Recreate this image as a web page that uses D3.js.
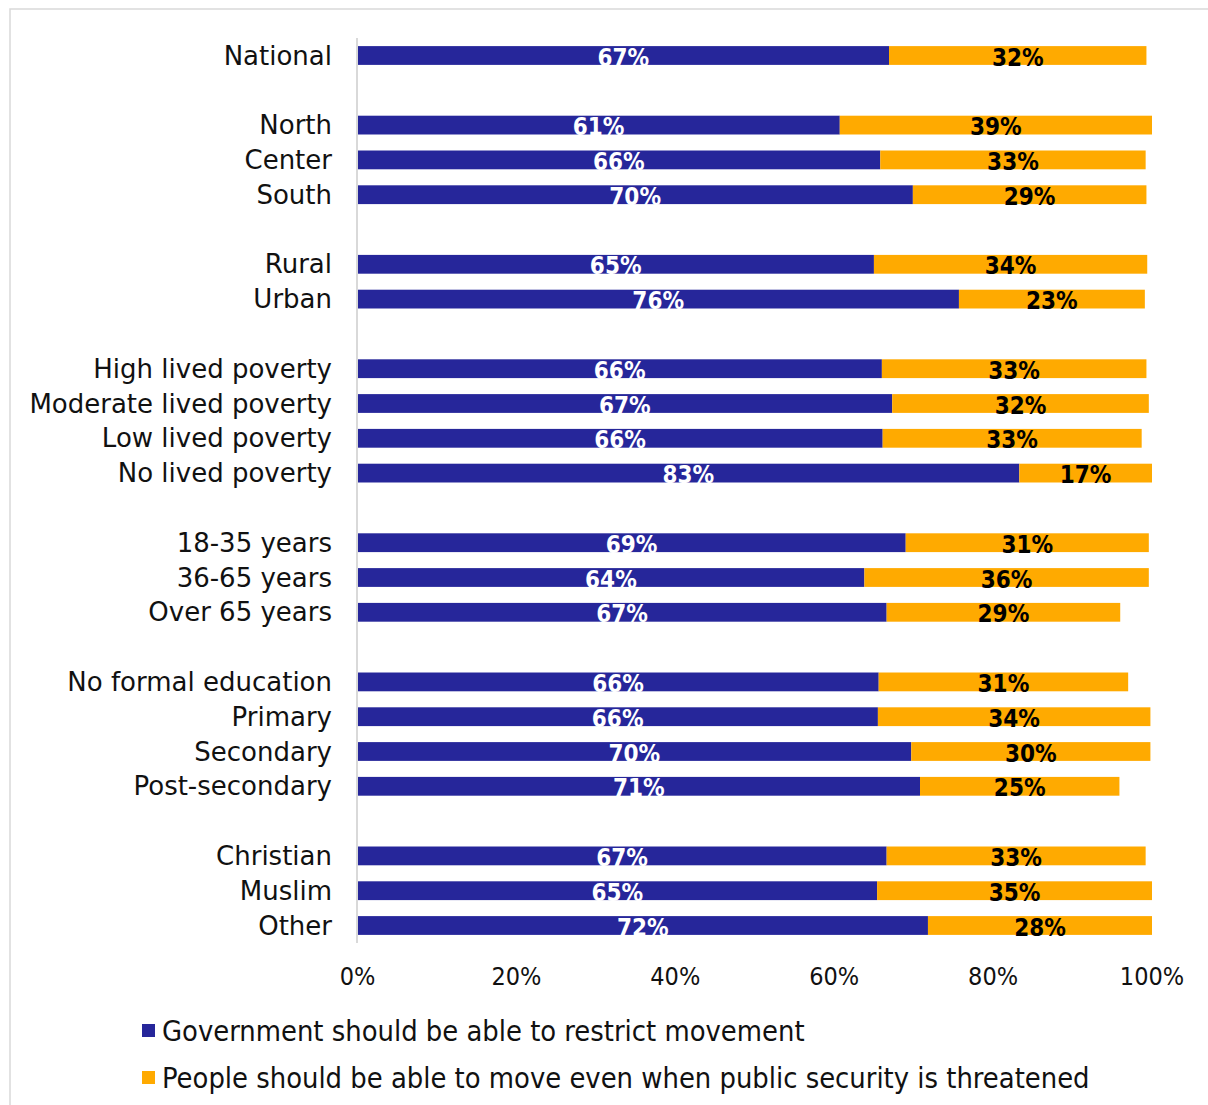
<!DOCTYPE html>
<html>
<head>
<meta charset="utf-8">
<script src="https://cdn.jsdelivr.net/npm/d3@7"></script>
<style>
  html, body { margin: 0; padding: 0; background: #fff; }
  svg { display: block; }
</style>
</head>
<body>
<div class="chart"></div>
<script>
// categories in drawing order, split into groups (a blank row sits between groups)
const categories = ["National",
  "North", "Center", "South",
  "Rural", "Urban",
  "High lived poverty", "Moderate lived poverty", "Low lived poverty", "No lived poverty",
  "18-35 years", "36-65 years", "Over 65 years",
  "No formal education", "Primary", "Secondary", "Post-secondary",
  "Christian", "Muslim", "Other"]
const groupSizes = [1, 3, 2, 4, 3, 4, 3]

// Government should be able to restrict movement (%)
const govValues = [66.9,
  60.7, 65.8, 69.9,
  65.0, 75.7,
  66.0, 67.3, 66.1, 83.3,
  69.0, 63.8, 66.6,
  65.6, 65.5, 69.7, 70.8,
  66.6, 65.4, 71.8]
// People should be able to move even when public security is threatened (%)
const peopleValues = [32.4,
  39.3, 33.4, 29.4,
  34.4, 23.4,
  33.3, 32.3, 32.6, 16.7,
  30.6, 35.8, 29.4,
  31.4, 34.3, 30.1, 25.1,
  32.6, 34.6, 28.2]

const seriesNames = ["Government should be able to restrict movement",
  "People should be able to move even when public security is threatened"]
const seriesColors = ["#26269a", "#ffaa00"]
const tickValues = [0, 20, 40, 60, 80, 100]

const W = 1208, H = 1105

// build the row slots, with a spacer between groups
let slots = []
let idx = 0
groupSizes.forEach((n, g) => {
  if (g > 0) slots.push({key: "gap" + g, gap: true})
  for (let i = 0; i < n; i++) {
    slots.push({key: "row" + idx, name: categories[idx], gov: govValues[idx], people: peopleValues[idx]})
    idx++
  }
})
const rows = slots.filter(d => !d.gap)

const svg = d3.select(".chart").append("svg")
  .attr("width", W)
  .attr("height", H)

// light frame round the chart
svg.append("rect")
  .attr("x", 10).attr("y", 9)
  .attr("width", 1400).attr("height", 1400)
  .attr("fill", "none")
  .attr("stroke", "#d9d9d9")
  .attr("stroke-width", 1.5)

const x = d3.scaleLinear().domain([0, 100]).range([357.5, 1152])
const y = d3.scaleBand()
  .domain(slots.map(d => d.key))
  .range([38.1, 942.9])
  .paddingInner(0.46)
  .paddingOuter(0.23)

const labelFont = "'DejaVu Sans', sans-serif"
const narrowFont = "'DejaVu Sans Condensed', 'DejaVu Sans', sans-serif"

// blue part
svg.append("g").selectAll("rect")
  .data(rows)
  .enter()
  .append("rect")
    .attr("x", x(0))
    .attr("y", d => y(d.key))
    .attr("width", d => x(d.gov) - x(0))
    .attr("height", y.bandwidth())
    .attr("fill", seriesColors[0])

// orange part
svg.append("g").selectAll("rect")
  .data(rows)
  .enter()
  .append("rect")
    .attr("x", d => x(d.gov))
    .attr("y", d => y(d.key))
    .attr("width", d => x(d.gov + d.people) - x(d.gov))
    .attr("height", y.bandwidth())
    .attr("fill", seriesColors[1])

// vertical axis line
svg.append("line")
  .attr("x1", 357).attr("x2", 357)
  .attr("y1", y.range()[0]).attr("y2", y.range()[1])
  .attr("stroke", "#d9d9d9")
  .attr("stroke-width", 2)

// value labels
const fmt = v => Math.round(v) + "%"
svg.append("g").selectAll("text")
  .data(rows)
  .enter()
  .append("text")
    .attr("x", d => (x(0) + x(d.gov)) / 2)
    .attr("y", d => y(d.key) + y.bandwidth() / 2 + 10)
    .attr("text-anchor", "middle")
    .attr("font-family", narrowFont)
    .attr("font-weight", "bold")
    .attr("font-size", "24px")
    .attr("fill", "#fff")
    .text(d => fmt(d.gov))

svg.append("g").selectAll("text")
  .data(rows)
  .enter()
  .append("text")
    .attr("x", d => (x(d.gov) + x(d.gov + d.people)) / 2)
    .attr("y", d => y(d.key) + y.bandwidth() / 2 + 10)
    .attr("text-anchor", "middle")
    .attr("font-family", narrowFont)
    .attr("font-weight", "bold")
    .attr("font-size", "24px")
    .attr("fill", "#000")
    .text(d => fmt(d.people))

// category labels
svg.append("g").selectAll("text")
  .data(rows)
  .enter()
  .append("text")
    .attr("x", 332)
    .attr("y", d => y(d.key) + y.bandwidth() / 2 + 9)
    .attr("text-anchor", "end")
    .attr("font-family", labelFont)
    .attr("font-size", "26px")
    .attr("fill", "#111")
    .text(d => d.name)

// x tick labels
svg.append("g").selectAll("text")
  .data(tickValues)
  .enter()
  .append("text")
    .attr("x", d => x(d))
    .attr("y", 985)
    .attr("text-anchor", "middle")
    .attr("font-family", narrowFont)
    .attr("font-size", "25px")
    .attr("fill", "#111")
    .text(d => d + "%")

// legend
const legend = svg.append("g").selectAll("g")
  .data(seriesNames)
  .enter()
  .append("g")
    .attr("transform", (d, i) => `translate(142,${1024 + i * 47})`)

legend.append("rect")
  .attr("width", 13).attr("height", 13)
  .attr("fill", (d, i) => seriesColors[i])

legend.append("text")
  .attr("x", 20)
  .attr("y", 17)
  .attr("font-family", narrowFont)
  .attr("font-size", "28.8px")
  .attr("fill", "#111")
  .text(d => d)
</script>
</body>
</html>
